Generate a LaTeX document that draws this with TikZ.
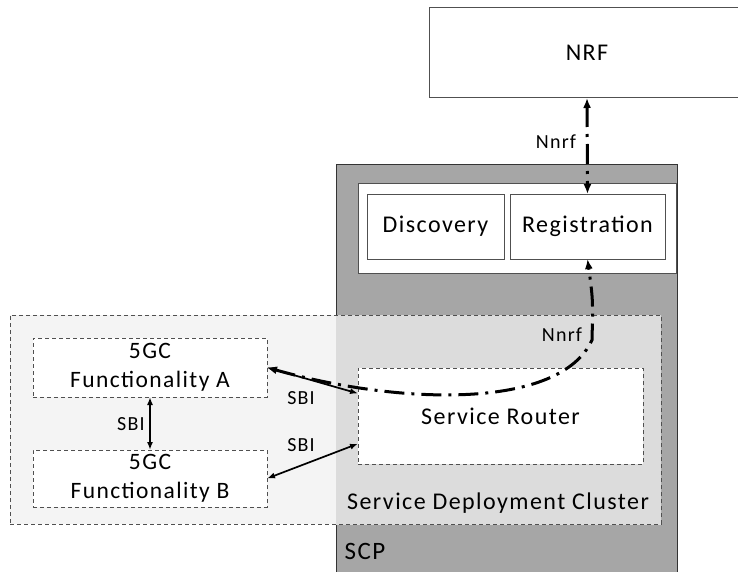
\documentclass[tikz,border=0pt]{standalone}
\usepackage{fontspec}
\setmainfont{Carlito}[LetterSpace=6]
\usepackage{tikz}
\usetikzlibrary{arrows.meta,positioning}

\definecolor{scpgray}{HTML}{A6A6A6}
\definecolor{clusterfill}{HTML}{F4F4F4}
\definecolor{overlapfill}{HTML}{DCDCDC}
\definecolor{boxline}{HTML}{505050}

\begin{document}
\begin{tikzpicture}[
        x=1pt, y=-1pt,
        box/.style={draw=boxline, fill=white, line width=1pt, inner sep=0pt, outer sep=0pt, align=center, font=\fontsize{24}{29}\selectfont},
        dbox/.style={box, dashed, dash pattern=on 4pt off 3pt},
        lbl/.style={inner sep=0pt, font=\fontsize{20}{24}\selectfont},
        arr/.style={{Latex[length=8pt,width=6pt]}-{Latex[length=8pt,width=6pt]}, line width=1.7pt},
        nnrf/.style={{Latex[length=10pt,width=8pt]}-{Latex[length=10pt,width=8pt]}, line width=3pt, dash pattern=on 20pt off 7pt on 3pt off 7pt},
    ]
        \path[use as bounding box, clip] (0,0) rectangle (738,572);
        % SCP and its cluster
        \node[draw=black!80, fill=scpgray, line width=1pt, minimum width=341pt, minimum height=435pt, inner sep=0pt] (scp) at (506.5,382.5) {};
        \node[dbox, fill=clusterfill, minimum width=651pt, minimum height=209pt,
            path picture={\fill[overlapfill] (scp.north west) rectangle (scp.south east);}] (sdc) at (335.5,419.5) {};
        \node[box, minimum width=318pt, minimum height=90pt] (nfbox) at (517,228) {};
        \node[box, minimum width=137pt, minimum height=65pt] (disc) at (435.5,226.5) {Discovery};
        \node[box, minimum width=155pt, minimum height=65pt, right=6pt of disc] (reg) {Registration};
        \node[box, minimum width=316pt, minimum height=90pt] (nrf) at (587,53) {NRF};
        \node[dbox, minimum width=285pt, minimum height=96pt] (router) at (500.5,416) {Service Router};
        \node[dbox, minimum width=234pt, minimum height=59pt, font=\fontsize{23.5}{29}\selectfont] (fa) at (150,367.5) {5GC\\Functionality A};
        \node[dbox, minimum width=234pt, minimum height=57pt, font=\fontsize{23.5}{29}\selectfont] (fb) at (150,478.5) {5GC\\Functionality B};
        \node[lbl, font=\fontsize{24}{28}\selectfont] (sdclabel) at (498,503) {Service Deployment Cluster};
        \node[lbl, font=\fontsize{25}{28}\selectfont] (scplabel) at (365,551) {SCP};
        % connectors
        \draw[arr] (fa.south) -- (fb.north);
        \draw[arr] (fa.east) -- (router.171);
        \draw[arr] (fb.east) -- (router.191);
        \draw[nnrf] (nrf.south) -- (reg.north);
        \coordinate (bend) at (592,340);
        \draw[nnrf] (fa.east) .. controls (400,405) and (560,410) .. (bend) .. controls (593,300) .. (reg.south);
        \node[lbl] (sbi1) at (131,424) {SBI};
        \node[lbl] (sbi2) at (301,398) {SBI};
        \node[lbl] (sbi3) at (301,445) {SBI};
        \node[lbl] (nnrf1) at (556,142) {Nnrf};
        \node[lbl] (nnrf2) at (562,335) {Nnrf};
    \end{tikzpicture}
\end{document}
